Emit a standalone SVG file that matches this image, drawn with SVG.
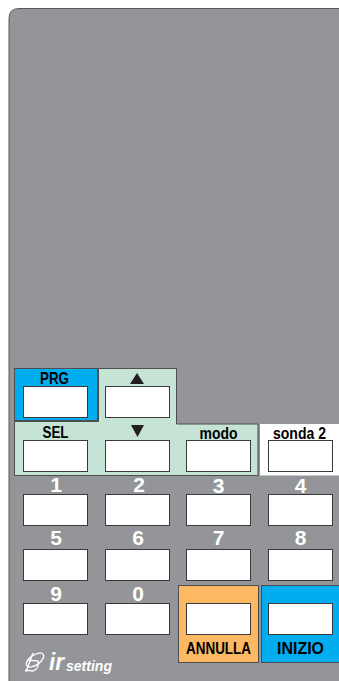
<svg xmlns="http://www.w3.org/2000/svg" width="339" height="681" viewBox="0 0 339 681">
<style>
.k{fill:#fff;stroke:#3a3a3c;stroke-width:1}
.p{stroke:#4d4d4f;stroke-width:1}
text{font-family:"Liberation Sans",Arial,sans-serif;font-weight:700;text-anchor:middle}
.d{font-size:16.500px;fill:#000}
.n{font-size:21px;fill:#fff}
</style>
<rect width="339" height="681" fill="#fff"/>
<path id="body" d="M345 8.500H19Q9 8.500 9 18.500V690H345Z" fill="#939598" stroke="#58595b" stroke-width="1"/>
<g id="panels">
<rect class="p" x="14.500" y="368.500" width="83" height="52" fill="#00aeef"/>
<path class="p" d="M98.500 368.500H176.500V424H258V475.500H14.500V421.500H98.500Z" fill="#c5e4d5"/>
<rect x="260" y="424" width="80" height="51.500" fill="#fff"/>
<rect class="p" x="178.500" y="585.500" width="80" height="77" fill="#fdb863"/>
<rect class="p" x="261.500" y="585.500" width="80" height="77" fill="#00aeef"/>
</g>
<g id="keys">
<g id="k-prg"><rect class="k" x="23.500" y="386.500" width="64" height="31"/><text class="d" x="54.500" y="384" textLength="29" lengthAdjust="spacingAndGlyphs">PRG</text></g>
<g id="k-up"><rect class="k" x="105.500" y="386.500" width="64" height="31"/><path d="M130 384L137 373L144 384Z" fill="#231f20"/></g>
<g id="k-sel"><rect class="k" x="23.500" y="440.500" width="64" height="31"/><text class="d" x="55.500" y="437.700" textLength="26" lengthAdjust="spacingAndGlyphs">SEL</text></g>
<g id="k-down"><rect class="k" x="105.500" y="440.500" width="64" height="31"/><path d="M131 425H144L137.500 437Z" fill="#231f20"/></g>
<g id="k-modo"><rect class="k" x="186.500" y="440.500" width="64" height="31"/><text class="d" x="218.500" y="439" textLength="38" lengthAdjust="spacingAndGlyphs">modo</text></g>
<g id="k-sonda"><rect class="k" x="268.500" y="440.500" width="64" height="31"/><text class="d" x="299.500" y="439" textLength="53" lengthAdjust="spacingAndGlyphs">sonda 2</text></g>
<g id="k1"><rect class="k" x="23.500" y="494.500" width="64" height="31"/><text class="n" x="56" y="491.500">1</text></g>
<g id="k2"><rect class="k" x="105.500" y="494.500" width="64" height="31"/><text class="n" x="139" y="491.500">2</text></g>
<g id="k3"><rect class="k" x="186.500" y="494.500" width="64" height="31"/><text class="n" x="218.500" y="492.500">3</text></g>
<g id="k4"><rect class="k" x="268.500" y="494.500" width="64" height="31"/><text class="n" x="300.500" y="492.500">4</text></g>
<g id="k5"><rect class="k" x="23.500" y="549.500" width="64" height="31"/><text class="n" x="56" y="545">5</text></g>
<g id="k6"><rect class="k" x="105.500" y="549.500" width="64" height="31"/><text class="n" x="138" y="545">6</text></g>
<g id="k7"><rect class="k" x="186.500" y="549.500" width="64" height="31"/><text class="n" x="218.500" y="545">7</text></g>
<g id="k8"><rect class="k" x="268.500" y="549.500" width="64" height="31"/><text class="n" x="300.500" y="545">8</text></g>
<g id="k9"><rect class="k" x="23.500" y="603.500" width="64" height="31"/><text class="n" x="56" y="601">9</text></g>
<g id="k0"><rect class="k" x="105.500" y="603.500" width="64" height="31"/><text class="n" x="138" y="601">0</text></g>
<g id="k-annulla"><rect class="k" x="186.500" y="603.500" width="64" height="31"/><text class="d" x="218.500" y="654" textLength="65" lengthAdjust="spacingAndGlyphs">ANNULLA</text></g>
<g id="k-inizio"><rect class="k" x="268.500" y="603.500" width="64" height="31"/><text class="d" x="300.500" y="654" textLength="47" lengthAdjust="spacingAndGlyphs">INIZIO</text></g>
</g>
<g id="logo">
<g fill="none" stroke="#fff" stroke-width="1.300"><ellipse cx="35" cy="660" rx="10" ry="5" transform="rotate(-35 35 660)"/><path d="M33 653L26 672M27 660L38 661Q40 668 33 671L25 670"/></g>
<text x="49" y="669.500" style="font-size:24px;font-style:italic;text-anchor:start" fill="#fff" textLength="15" lengthAdjust="spacingAndGlyphs">ir</text>
<text x="66" y="671" style="font-size:14.500px;font-style:italic;text-anchor:start" fill="#fff" textLength="46" lengthAdjust="spacingAndGlyphs">setting</text>
</g>
</svg>
